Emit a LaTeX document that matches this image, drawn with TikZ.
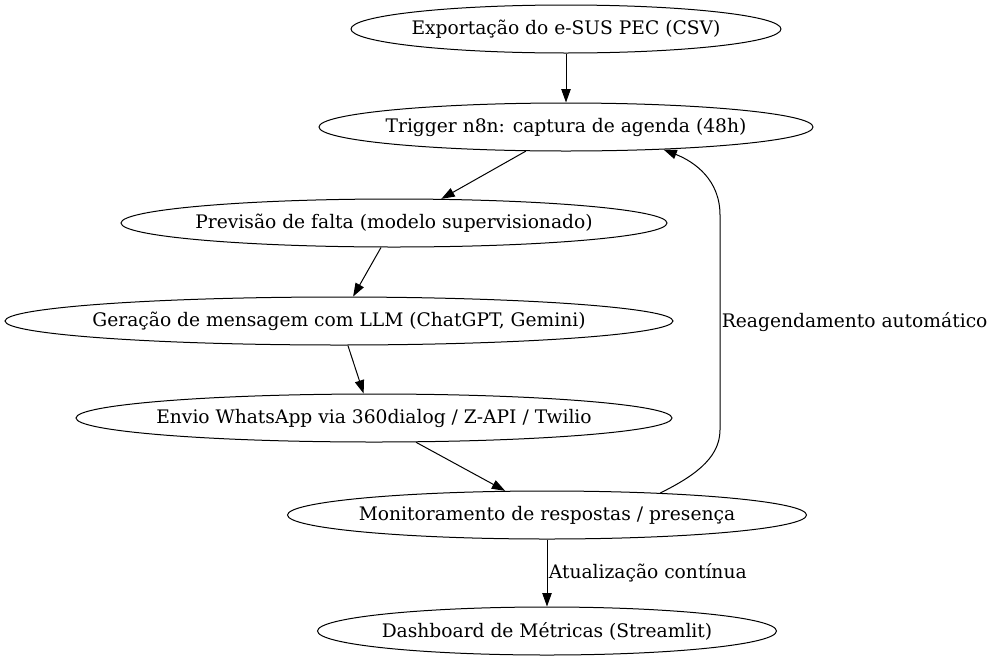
\documentclass[tikz,border=0pt]{standalone}
\usepackage{fontspec}
\setmainfont{DejaVu Serif}
\usetikzlibrary{shapes.geometric,arrows.meta}

\newcommand{\flatlabel}[1]{\makebox[0pt]{#1}}
\tikzset{every picture/.style={line width=0.75pt}}
\tikzset{stage/.style={draw, ellipse, inner sep=0pt, minimum height=36pt, font=\fontsize{14}{16}\selectfont},
  flow/.style={-{Triangle[length=10pt,width=7pt]}},
  edgelabel/.style={inner sep=1pt, font=\fontsize{14}{16}\selectfont}}

\begin{document}
\begin{tikzpicture}[x=0.75pt,y=0.75pt,yscale=-1,xscale=1]
\useasboundingbox (0,0) rectangle (995,661);

%Shape: Ellipse [id:exportacao]
\node [stage, minimum width=322.5pt] (exp) at (566,29) {\flatlabel{Exportação do e-SUS PEC (CSV)}};
%Shape: Ellipse [id:trigger]
\node [stage, minimum width=370.5pt] (trig) at (566,127) {\flatlabel{Trigger n8n: captura de agenda (48h)}};
%Shape: Ellipse [id:previsao]
\node [stage, minimum width=409.5pt] (prev) at (394,223) {\flatlabel{Previsão de falta (modelo supervisionado)}};
%Shape: Ellipse [id:geracao]
\node [stage, minimum width=501pt] (gen) at (339,321) {\flatlabel{Geração de mensagem com LLM (ChatGPT, Gemini)}};
%Shape: Ellipse [id:envio]
\node [stage, minimum width=447pt] (env) at (374,418) {\flatlabel{Envio WhatsApp via 360dialog / Z-API / Twilio}};
%Shape: Ellipse [id:monitor]
\node [stage, minimum width=389.25pt] (mon) at (547,515) {\flatlabel{Monitoramento de respostas / presença}};
%Shape: Ellipse [id:dashboard]
\node [stage, minimum width=344.25pt] (dash) at (547,631) {\flatlabel{Dashboard de Métricas (Streamlit)}};

%Straight Lines
\draw [flow] (exp.south) -- (trig.north);
\draw [flow] (trig.211) -- (prev.27);
\draw [flow] (prev.242) -- (gen.60);
\draw [flow] (gen.-70) -- (env.113);
\draw [flow] (env.-30) -- (mon.150);
\draw [flow] (mon.south) -- node [edgelabel, right] {Atualização contínua} (dash.north);

%Curve Lines
\draw [flow] (mon.11.4) .. controls (690,478) and (720,460) .. (720,430) -- node [edgelabel, right] {Reagendamento automático} (720,215) .. controls (720,180) and (695,162) .. (trig.-13.3);

\end{tikzpicture}
\end{document}
